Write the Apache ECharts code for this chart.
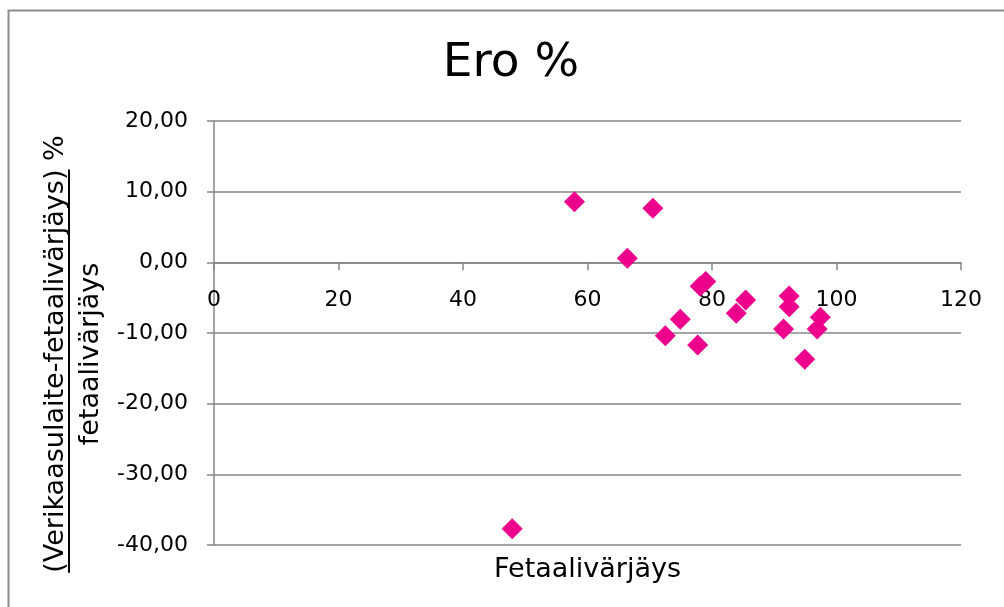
<!DOCTYPE html>
<html>
<head>
<meta charset="utf-8">
<script src="https://cdn.jsdelivr.net/npm/echarts@6/dist/echarts.min.js"></script>
<style>
html,body{margin:0;padding:0;background:#fff;}
#c{width:1004px;height:607px;}
</style>
</head>
<body>
<div id="c"></div>
<script>
const chartTitle = 'Ero %';
const xAxisName = 'Fetaalivärjäys';
const yNameNumerator = '(Verikaasulaite-fetaalivärjäys)';
const yNameLine1 = '(Verikaasulaite-fetaalivärjäys) %';
const yNameLine2 = 'fetaalivärjäys';
const xTicks = [0, 20, 40, 60, 80, 100, 120];
const yTicks = [-40, -30, -20, -10, 0, 10, 20];
const xValues = [57.9, 70.5, 66.4, 78.1, 79.0, 74.9, 72.5, 77.7, 85.4, 83.9, 92.4, 92.4, 91.5, 97.4, 96.9, 94.9, 47.9];
const yValues = [8.57, 7.64, 0.57, -3.4, -2.7, -8.06, -10.4, -11.7, -5.33, -7.2, -4.77, -6.28, -9.43, -7.78, -9.43, -13.7, -37.7];

const FONT = '"DejaVu Sans", Verdana, sans-serif';
const points = xValues.map((x, i) => [x, yValues[i]]);

const chart = echarts.init(document.getElementById('c'), null, {renderer: 'canvas'});

const gridTop = 121, gridBottom = 62, chartH = 607;
const plotH = chartH - gridTop - gridBottom;
const yMin = yTicks[0], yMax = yTicks[yTicks.length - 1];
// axis crosses at y = 0: shift the bottom axis up to the zero level
const zeroOffset = -((0 - yMin) / (yMax - yMin)) * plotH;

// measure for the underline of the numerator
const titleFontSize = 27;
const ctx = document.createElement('canvas').getContext('2d');
ctx.font = titleFontSize + 'px ' + FONT;
const fullW = ctx.measureText(yNameLine1).width;
const partW = ctx.measureText(yNameNumerator).width;
const line1X = 56, line2X = 91, nameCY = 354;
const ulStart = nameCY + fullW / 2;
const ulEnd = ulStart - partW;

const gridColor = '#878787';

chart.setOption({
  animation: false,
  backgroundColor: '#ffffff',
  title: {
    text: chartTitle,
    left: 506,
    textAlign: 'center',
    top: 35,
    textStyle: {fontFamily: FONT, fontSize: 47, fontWeight: 'normal', color: '#000'}
  },
  grid: {left: 214, right: 43, top: gridTop, bottom: gridBottom, containLabel: false},
  xAxis: [{
    type: 'value',
    position: 'bottom',
    offset: zeroOffset,
    min: xTicks[0], max: xTicks[xTicks.length - 1], interval: 20,
    axisLine: {onZero: false, lineStyle: {color: gridColor, width: 1.5}},
    axisTick: {show: true, length: 8, lineStyle: {color: gridColor, width: 1.5}},
    axisLabel: {margin: 27, color: '#000', fontFamily: FONT, fontSize: 22},
    splitLine: {show: false}
  }, {
    type: 'value',
    position: 'bottom',
    min: xTicks[0], max: xTicks[xTicks.length - 1], interval: 20,
    axisLine: {show: false, onZero: false},
    axisTick: {show: false},
    axisLabel: {show: false},
    splitLine: {show: false},
    name: xAxisName,
    nameLocation: 'middle',
    nameGap: 11,
    nameTextStyle: {fontFamily: FONT, fontSize: titleFontSize, color: '#000'}
  }],
  yAxis: {
    type: 'value',
    min: yMin, max: yMax, interval: 10,
    axisLine: {show: true, onZero: false, lineStyle: {color: gridColor, width: 1.5}},
    axisTick: {show: true, length: 7, lineStyle: {color: gridColor, width: 1.5}},
    axisLabel: {
      margin: 26, color: '#000', fontFamily: FONT, fontSize: 22,
      formatter: v => v.toFixed(2).replace('.', ',')
    },
    splitLine: {show: true, lineStyle: {color: gridColor, width: 1.5}}
  },
  series: [{
    type: 'scatter',
    xAxisIndex: 0,
    data: points,
    symbol: 'diamond',
    symbolSize: 21,
    itemStyle: {color: '#EC008C', opacity: 1}
  }],
  graphic: [
    {
      type: 'rect', silent: true,
      shape: {x: 8.5, y: 10.5, width: 1300, height: 1000},
      style: {fill: null, stroke: '#8c8c8c', lineWidth: 2}
    },
    {
      type: 'text', silent: true,
      x: line1X, y: nameCY, rotation: Math.PI / 2,
      style: {text: yNameLine1, font: titleFontSize + 'px ' + FONT, fill: '#000', align: 'center', verticalAlign: 'middle'}
    },
    {
      type: 'text', silent: true,
      x: line2X, y: nameCY, rotation: Math.PI / 2,
      style: {text: yNameLine2, font: titleFontSize + 'px ' + FONT, fill: '#000', align: 'center', verticalAlign: 'middle'}
    },
    {
      type: 'line', silent: true,
      shape: {x1: line1X + 13, y1: ulStart, x2: line1X + 13, y2: ulEnd},
      style: {stroke: '#000', lineWidth: 2}
    }
  ]
});
</script>
</body>
</html>
